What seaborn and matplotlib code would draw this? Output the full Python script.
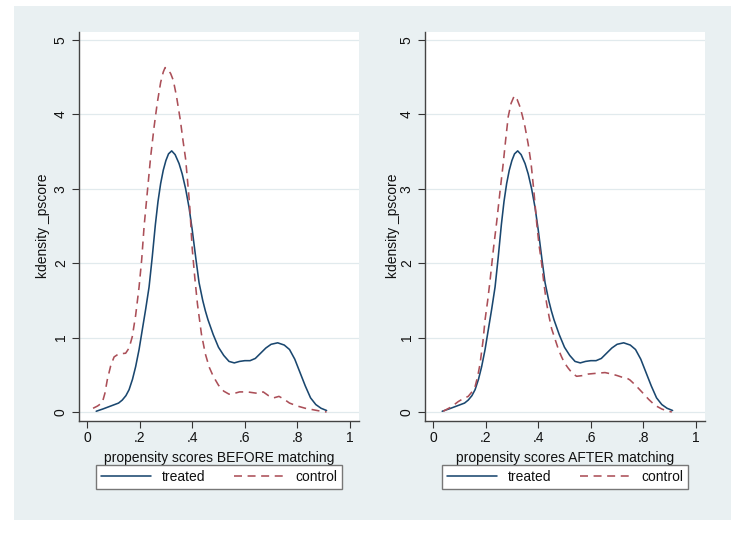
import numpy as np
import pandas as pd
import matplotlib
matplotlib.use("Agg")
import matplotlib.pyplot as plt
import seaborn as sns

# ---- data ----
treated_x = [0.035, 0.06, 0.09, 0.12, 0.134, 0.148, 0.16, 0.173, 0.185, 0.198, 0.21,
             0.223, 0.236, 0.248, 0.26, 0.27, 0.28, 0.29, 0.30, 0.31, 0.322, 0.335, 0.35,
             0.362, 0.375, 0.388, 0.40, 0.414, 0.426, 0.44, 0.45, 0.46, 0.48, 0.50, 0.52,
             0.54, 0.56, 0.58, 0.60, 0.62, 0.64, 0.66, 0.68, 0.70, 0.725, 0.75, 0.77,
             0.79, 0.81, 0.83, 0.85, 0.87, 0.89, 0.911]
treated_y = [0.01, 0.04, 0.08, 0.12, 0.16, 0.22, 0.30, 0.44, 0.61, 0.84, 1.10,
             1.38, 1.68, 2.08, 2.52, 2.83, 3.07, 3.25, 3.38, 3.47, 3.51, 3.46, 3.34,
             3.20, 3.00, 2.75, 2.45, 2.06, 1.74, 1.50, 1.36, 1.24, 1.04, 0.87, 0.76,
             0.68, 0.66, 0.68, 0.69, 0.69, 0.72, 0.79, 0.86, 0.91, 0.93, 0.90, 0.84,
             0.71, 0.53, 0.35, 0.19, 0.10, 0.05, 0.02]

control_before_x = [0.023, 0.04, 0.058, 0.068, 0.077, 0.09, 0.103, 0.12, 0.147, 0.16,
                    0.172, 0.185, 0.198, 0.208, 0.217, 0.23, 0.242, 0.255, 0.267, 0.28,
                    0.29, 0.297, 0.308, 0.318, 0.328, 0.34, 0.355, 0.365, 0.375, 0.39,
                    0.40, 0.41, 0.42, 0.435, 0.45, 0.465, 0.48, 0.50, 0.52, 0.54, 0.56,
                    0.58, 0.61, 0.63, 0.65, 0.67, 0.69, 0.71, 0.73, 0.75, 0.77, 0.80,
                    0.83, 0.86, 0.89, 0.911]
control_before_y = [0.05, 0.08, 0.125, 0.25, 0.43, 0.62, 0.74, 0.78, 0.79, 0.86,
                    1.01, 1.30, 1.68, 2.05, 2.49, 2.98, 3.43, 3.83, 4.15, 4.43,
                    4.57, 4.63, 4.60, 4.55, 4.46, 4.25, 3.92, 3.65, 3.40, 2.80,
                    2.20, 1.80, 1.45, 1.05, 0.78, 0.60, 0.48, 0.36, 0.28, 0.24, 0.25,
                    0.27, 0.27, 0.26, 0.25, 0.27, 0.22, 0.19, 0.21, 0.17, 0.12, 0.08,
                    0.05, 0.03, 0.01, 0.00]

control_after_x = [0.039, 0.07, 0.096, 0.115, 0.134, 0.148, 0.16, 0.17, 0.179, 0.19,
                   0.198, 0.208, 0.217, 0.23, 0.242, 0.255, 0.267, 0.276, 0.286, 0.297,
                   0.309, 0.32, 0.331, 0.34, 0.35, 0.362, 0.373, 0.384, 0.394, 0.403,
                   0.413, 0.422, 0.432, 0.442, 0.451, 0.464, 0.477, 0.489, 0.50, 0.514,
                   0.53, 0.546, 0.57, 0.59, 0.62, 0.654, 0.68, 0.70, 0.717, 0.735,
                   0.749, 0.77, 0.794, 0.82, 0.844, 0.87, 0.89, 0.908]
control_after_y = [0.01, 0.07, 0.14, 0.18, 0.21, 0.27, 0.34, 0.48, 0.65, 0.95,
                   1.24, 1.50, 1.77, 2.20, 2.55, 2.97, 3.34, 3.65, 3.97, 4.15,
                   4.25, 4.20, 4.10, 3.98, 3.83, 3.60, 3.34, 2.95, 2.55, 2.25,
                   2.00, 1.72, 1.46, 1.27, 1.12, 0.98, 0.84, 0.74, 0.66, 0.59,
                   0.52, 0.48, 0.49, 0.51, 0.52, 0.53, 0.51, 0.49, 0.47, 0.46,
                   0.43, 0.36, 0.27, 0.17, 0.09, 0.04, 0.015, 0.00]

group_labels = ["treated", "control"]
x_titles = ["propensity scores BEFORE matching", "propensity scores AFTER matching"]
y_title = "kdensity _pscore"
x_ticks = [0, 0.2, 0.4, 0.6, 0.8, 1.0]
x_ticklabels = ["0", ".2", ".4", ".6", ".8", "1"]
y_ticks = [0, 1, 2, 3, 4, 5]

# ---- style ----
sns.set_style("white")
plt.rcParams["font.family"] = ["Liberation Sans", "DejaVu Sans"]

navy = "#1a476f"
maroon = "#ab4f58"
bg = "#e9f0f2"
grid_c = "#e1eaed"

W, H = 744, 535
fig = plt.figure(figsize=(7.44, 5.35), dpi=100)
fig.patch.set_facecolor("white")

# graph region background
bg_ax = fig.add_axes([14 / W, 1 - 520 / H, (731 - 14) / W, (520 - 6) / H], zorder=-5)
bg_ax.set_facecolor(bg)
bg_ax.set_xticks([])
bg_ax.set_yticks([])
for s in bg_ax.spines.values():
    s.set_visible(False)

panels = [
    (79, control_before_x, control_before_y),
    (425, control_after_x, control_after_y),
]

for i, (left_px, cx, cy) in enumerate(panels):
    ax = fig.add_axes([left_px / W, 1 - 421 / H, 280 / W, 389 / H], zorder=1)
    ax.set_facecolor("white")
    df = pd.concat([
        pd.DataFrame({"x": treated_x, "d": treated_y, "g": group_labels[0]}),
        pd.DataFrame({"x": cx, "d": cy, "g": group_labels[1]}),
    ], ignore_index=True)
    sns.lineplot(data=df, x="x", y="d", hue="g", style="g",
                 palette={group_labels[0]: navy, group_labels[1]: maroon},
                 dashes={group_labels[0]: "", group_labels[1]: (5, 3.5)},
                 linewidth=1.15, sort=True, estimator=None, ax=ax, legend=True)
    for ln in ax.get_lines():
        ln.set_solid_joinstyle("round")
        ln.set_dash_joinstyle("round")
    ax.set_xlim(-0.0304, 1.0342)
    ax.set_ylim(-0.121, 5.108)
    ax.set_xticks(x_ticks)
    ax.set_xticklabels(x_ticklabels)
    ax.set_yticks(y_ticks)
    ax.set_yticklabels([str(v) for v in y_ticks], rotation=90, va="center")
    ax.tick_params(axis="both", which="major", direction="out", length=5, width=0.8,
                   color="#333333", labelsize=10, labelcolor="#111111", pad=2,
                   left=True, bottom=True)
    ax.tick_params(axis="y", pad=3)
    ax.grid(axis="y", color=grid_c, linewidth=0.9)
    ax.grid(axis="x", visible=False)
    for s in ["top", "right"]:
        ax.spines[s].set_visible(False)
    for s in ["left", "bottom"]:
        ax.spines[s].set_visible(True)
        ax.spines[s].set_color("#444444")
        ax.spines[s].set_linewidth(1.0)
    ax.set_xlabel(x_titles[i], fontsize=10, color="#111111", labelpad=-1)
    ax.set_ylabel(y_title, fontsize=10, color="#111111", labelpad=2)
    ax.yaxis.set_label_coords(-(79 - 50) / 280 if i == 0 else -(425 - 400) / 280,
                              (421 - 226) / 389)
    ax.xaxis.set_label_coords(0.5, -(451 - 421) / 389)

    handles, labels = ax.get_legend_handles_labels()
    ax.get_legend().remove()
    cx_fig = (left_px + 140) / W
    leg = ax.legend(handles, labels, loc="center", bbox_to_anchor=(cx_fig, 1 - 477 / H),
                    bbox_transform=fig.transFigure, ncol=2, frameon=True, fancybox=False,
                    edgecolor="#777777", facecolor="white", framealpha=1, fontsize=10,
                    handlelength=3.6, handletextpad=0.8, columnspacing=2.1,
                    borderpad=0.35, borderaxespad=0)
    leg.get_frame().set_linewidth(1.0)
    for t in leg.get_texts():
        t.set_color("#111111")

fig.savefig("out.png", dpi=100, facecolor="white")
